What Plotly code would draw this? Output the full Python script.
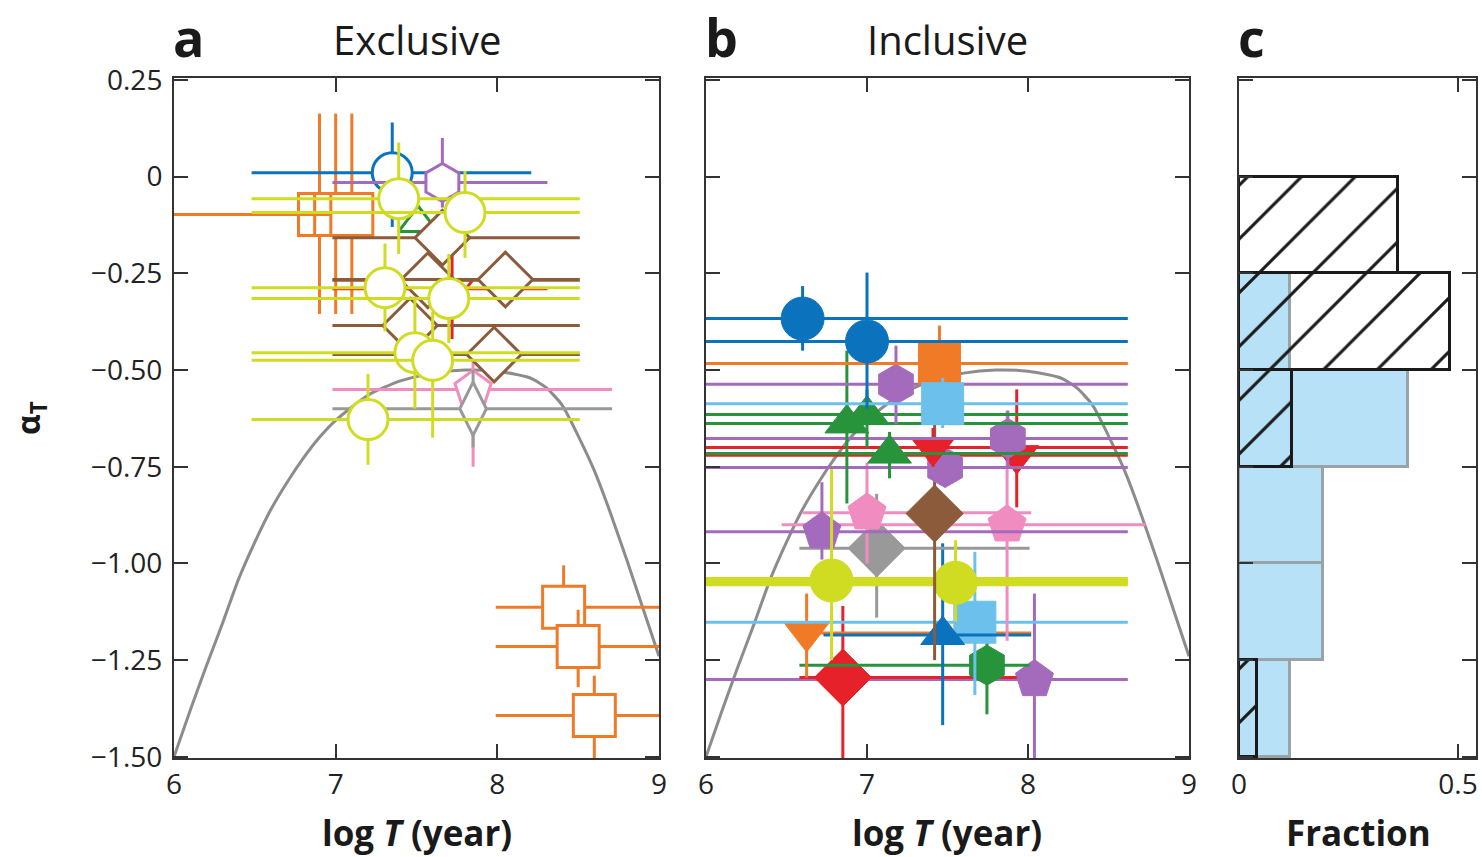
import plotly.graph_objects as go

# ---------------- data ----------------
# theoretical curve
curve_x = [6.0, 6.1, 6.2, 6.3, 6.4, 6.5, 6.6, 6.7, 6.8, 6.9, 7.0, 7.2, 7.4, 7.6, 7.8, 8.0,
           8.2, 8.3, 8.4, 8.5, 8.6, 8.7, 8.8, 8.9, 9.0]
curve_y = [-1.5, -1.38, -1.265, -1.155, -1.04, -0.945, -0.86, -0.79, -0.728, -0.674, -0.63, -0.565, -0.528, -0.508, -0.5, -0.503,
           -0.52, -0.545, -0.59, -0.67, -0.76, -0.87, -0.99, -1.115, -1.24]

# panel a (exclusive): centre, x-extent, y-extent
a_x = [6.90, 7.00, 7.10, 8.41, 8.50, 8.60, 7.35, 7.66, 7.51, 7.72, 7.85, 7.85,
       7.66, 7.57, 8.05, 7.46, 7.98,
       7.39, 7.80, 7.305, 7.70, 7.49, 7.60, 7.20]
a_y = [-0.098, -0.098, -0.098, -1.113, -1.215, -1.393, 0.01, -0.015, -0.12, -0.29, -0.55, -0.60,
       -0.158, -0.268, -0.266, -0.385, -0.46,
       -0.057, -0.093, -0.287, -0.315, -0.455, -0.475, -0.628]
a_xlo = [5.5, 5.5, 5.5, 7.99, 7.99, 7.99, 6.48, 6.98, 7.45, 6.98, 6.98, 6.98,
         6.98, 6.98, 6.98, 6.98, 6.98,
         6.48, 6.48, 6.48, 6.48, 6.48, 6.48, 6.48]
a_xhi = [7.0, 7.1, 7.2, 9.5, 9.5, 9.5, 8.21, 8.31, 7.57, 8.31, 8.71, 8.71,
         8.51, 8.51, 8.51, 8.51, 8.51,
         8.51, 8.51, 8.51, 8.51, 8.51, 8.51, 8.51]
a_ylo = [-0.355, -0.355, -0.355, -1.2, -1.32, -1.6, -0.13, -0.08, -0.15, -0.42, -0.75, -0.70,
         -0.19, -0.30, -0.30, -0.42, -0.49,
         -0.20, -0.21, -0.40, -0.43, -0.60, -0.675, -0.745]
a_yhi = [0.163, 0.163, 0.163, -1.005, -1.12, -1.29, 0.14, 0.10, -0.09, -0.20, -0.45, -0.50,
         -0.13, -0.24, -0.24, -0.35, -0.43,
         0.088, 0.015, -0.173, -0.20, -0.31, -0.35, -0.51]
a_kind = ["orange", "orange", "orange", "orange", "orange", "orange", "blue", "purple", "green", "red", "pink", "gray",
          "brown", "brown", "brown", "brown", "brown",
          "yellow", "yellow", "yellow", "yellow", "yellow", "yellow", "yellow"]

# panel b (inclusive)
b_x = [8.04, 6.85, 7.745, 6.625, 7.67, 7.47, 7.06, 7.00, 7.87, 6.72, 6.78, 7.55,
       7.42, 7.93, 7.485, 7.41, 7.875, 7.14, 6.875, 7.00, 7.18, 7.45, 7.47, 7.00, 6.60]
b_y = [-1.30, -1.295, -1.263, -1.18, -1.152, -1.185, -0.961, -0.869, -0.90, -0.918, -1.044, -1.05,
       -0.871, -0.72, -0.752, -0.70, -0.677, -0.716, -0.638, -0.615, -0.537, -0.483, -0.587, -0.426, -0.367]
b_xlo = [5.0, 6.58, 6.58, 6.625, 5.0, 6.73, 6.58, 6.60, 6.47, 5.0, 5.0, 5.0,
         7.30, 5.0, 5.0, 5.0, 5.0, 5.0, 5.0, 5.0, 5.0, 5.0, 5.0, 5.0, 5.0]
b_xhi = [8.62, 7.93, 8.01, 8.02, 8.62, 8.02, 8.01, 8.02, 8.73, 8.62, 8.62, 8.62,
         7.50, 8.62, 8.62, 8.62, 8.62, 8.62, 8.62, 8.62, 8.62, 8.62, 8.62, 8.62, 8.62]
b_ylo = [-1.6, -1.55, -1.39, -1.295, -1.34, -1.418, -1.14, -1.0, -1.2, -0.99, -1.25, -1.15,
         -1.25, -0.855, -0.80, -0.75, -0.75, -0.78, -0.845, -0.70, -0.64, -0.60, -0.65, -0.60, -0.45]
b_yhi = [-1.078, -1.11, -1.14, -1.078, -0.97, -0.948, -0.82, -0.74, -0.605, -0.79, -0.75, -0.94,
         -0.64, -0.55, -0.70, -0.65, -0.605, -0.66, -0.45, -0.55, -0.437, -0.385, -0.52, -0.248, -0.283]
b_kind = ["purple", "red", "green", "orange", "lightblue", "blue", "gray", "pink", "pink", "purple", "yellow", "yellow",
          "brown", "red", "purple", "red", "purple", "green", "green", "green", "purple", "orange", "lightblue", "blue", "blue"]

# panel c histogram (fraction per 0.25 bin of alpha_T)
bin_centers = [-0.125, -0.375, -0.625, -0.875, -1.125, -1.375]
excl_frac = [0.363, 0.482, 0.121, 0.0, 0.0, 0.041]
incl_frac = [0.0, 0.116, 0.386, 0.192, 0.192, 0.116]

y_tickvals = [0.25, 0, -0.25, -0.5, -0.75, -1.0, -1.25, -1.5]
y_ticktext = ["0.25", "0", "\u22120.25", "\u22120.50", "\u22120.75", "\u22121.00", "\u22121.25", "\u22121.50"]

# ---------------- styles ----------------
colors = {"orange": "#f07a26", "blue": "#0b72be", "purple": "#a46bbd", "green": "#27943b",
          "red": "#e62129", "pink": "#f08cbf", "gray": "#999999", "brown": "#8b5b3b",
          "yellow": "#d0dc22", "lightblue": "#6cc1ec"}
a_symbol = {"orange": "square", "blue": "circle", "purple": "hexagon", "green": "triangle-up",
            "red": "triangle-down", "pink": "pentagon", "gray": "diamond-tall", "brown": "diamond",
            "yellow": "circle"}
a_size = {"orange": 42, "blue": 40, "purple": 38, "green": 34, "red": 36, "pink": 38,
          "gray": 38, "brown": 42, "yellow": 40}
b_symbols = ["pentagon", "diamond", "hexagon", "triangle-down", "square", "triangle-up", "diamond", "pentagon",
             "pentagon", "pentagon", "circle", "circle", "diamond", "triangle-down", "hexagon", "triangle-down",
             "hexagon", "triangle-up", "triangle-up", "triangle-up", "hexagon", "square", "square", "circle", "circle"]
b_sizes = {"circle": 43, "square": 42, "diamond": 44, "triangle-up": 38, "triangle-down": 38,
           "hexagon": 40, "pentagon": 40}

FONT = "Open Sans"
fig = go.Figure()

for xa, ya in (("x", "y"), ("x2", "y2")):
    fig.add_trace(go.Scatter(x=curve_x, y=curve_y, mode="lines", xaxis=xa, yaxis=ya,
                             line=dict(color="#8c8c8c", width=3, shape="spline", smoothing=0.6),
                             hoverinfo="skip", showlegend=False))

for i in range(len(a_x)):
    k = a_kind[i]
    c = colors[k]
    fig.add_trace(go.Scatter(
        x=[a_x[i]], y=[a_y[i]], mode="markers", xaxis="x", yaxis="y", showlegend=False,
        marker=dict(symbol=a_symbol[k], size=a_size[k], color="white", line=dict(color=c, width=3)),
        error_x=dict(type="data", symmetric=False, array=[a_xhi[i] - a_x[i]], arrayminus=[a_x[i] - a_xlo[i]],
                     color=c, thickness=3, width=0),
        error_y=dict(type="data", symmetric=False, array=[a_yhi[i] - a_y[i]], arrayminus=[a_y[i] - a_ylo[i]],
                     color=c, thickness=3, width=0)))

for i in range(len(b_x)):
    k = b_kind[i]
    c = colors[k]
    s = b_symbols[i]
    fig.add_trace(go.Scatter(
        x=[b_x[i]], y=[b_y[i]], mode="markers", xaxis="x2", yaxis="y2", showlegend=False,
        marker=dict(symbol=s, size=b_sizes[s], color=c, line=dict(color=c, width=1)),
        error_x=dict(type="data", symmetric=False, array=[b_xhi[i] - b_x[i]], arrayminus=[b_x[i] - b_xlo[i]],
                     color=c, thickness=7 if k == "yellow" else 3, width=0),
        error_y=dict(type="data", symmetric=False, array=[b_yhi[i] - b_y[i]], arrayminus=[b_y[i] - b_ylo[i]],
                     color=c, thickness=3, width=0)))

inc_y = [b for b, v in zip(bin_centers, incl_frac) if v > 0]
inc_v = [v for v in incl_frac if v > 0]
exc_y = [b for b, v in zip(bin_centers, excl_frac) if v > 0]
exc_v = [v for v in excl_frac if v > 0]
fig.add_trace(go.Bar(y=inc_y, x=inc_v, orientation="h", width=0.25, xaxis="x3", yaxis="y3", showlegend=False,
                     marker=dict(color="#b6e1f6", line=dict(color="#9aa3a8", width=3))))
fig.add_trace(go.Bar(y=exc_y, x=exc_v, orientation="h", width=0.25, xaxis="x3", yaxis="y3", showlegend=False,
                     marker=dict(color="rgba(0,0,0,0)", line=dict(color="#1a1a1a", width=3),
                                 pattern=dict(shape="/", fgcolor="#1a1a1a", bgcolor="rgba(0,0,0,0)",
                                              size=38, solidity=0.08, fillmode="replace"))))

W, H = 1482, 857
def px(x):
    return x / W
def py(y):
    return 1 - y / H

ax = dict(showline=True, linecolor="#333333", linewidth=2, mirror="ticks", ticks="inside", ticklen=14,
          tickwidth=2, tickcolor="#333333", showgrid=False, zeroline=False, automargin=False,
          tickfont=dict(family=FONT, size=28, color="#222222"))
ydom = [py(758), py(78)]
yr = [-1.503, 0.255]

fig.update_layout(
    width=W, height=H, margin=dict(l=0, r=0, t=0, b=0, autoexpand=False),
    plot_bgcolor="white", paper_bgcolor="white",
    barmode="overlay", bargap=0,
    xaxis=dict(ax, domain=[px(174), px(659)], range=[6, 9], tickvals=[6, 7, 8, 9], anchor="y"),
    yaxis=dict(ax, domain=ydom, range=yr, tickvals=y_tickvals, ticktext=y_ticktext, anchor="x",
               ticklabelstandoff=4),
    xaxis2=dict(ax, domain=[px(706), px(1189)], range=[6, 9], tickvals=[6, 7, 8, 9], anchor="y2"),
    yaxis2=dict(ax, domain=ydom, range=yr, tickvals=y_tickvals, showticklabels=False, anchor="x2"),
    xaxis3=dict(ax, domain=[px(1239), px(1476)], range=[0, 0.541], tickvals=[0, 0.5], ticktext=["0", "0.5"],
                anchor="y3"),
    yaxis3=dict(ax, domain=ydom, range=yr, tickvals=y_tickvals, showticklabels=False, anchor="x3"),
)

def ann(text, x, y, size, angle=0):
    fig.add_annotation(text=text, x=px(x), y=py(y), xref="paper", yref="paper", showarrow=False,
                       xanchor="center", yanchor="middle", textangle=angle,
                       font=dict(family=FONT, size=size, color="#1a1a1a"))

ann("<b>a</b>", 188, 36, 52)
ann("<b>b</b>", 721, 36, 52)
ann("<b>c</b>", 1251, 36, 52)
ann("Exclusive", 417, 40, 40)
ann("Inclusive", 947, 40, 40)
ann("<b>log <i>T</i> (year)</b>", 417, 832, 35)
ann("<b>log <i>T</i> (year)</b>", 947, 832, 35)
ann("<b>Fraction</b>", 1358, 832, 35)
ann("<b>\u03b1<sub>T</sub></b>", 30, 418, 32, -90)

fig.write_html("out.html")
